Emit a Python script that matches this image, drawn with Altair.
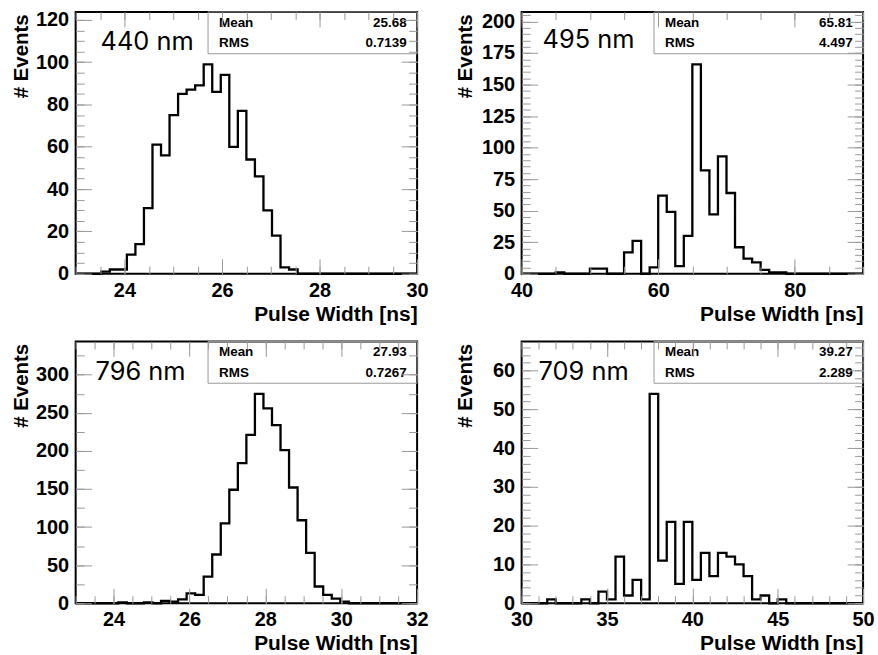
import altair as alt
import numpy as np
import pandas as pd

# ---------------- data ----------------
panel_labels = ["440 nm", "495 nm", "796 nm", "709 nm"]
x_lo = [23, 40, 23, 30]
x_hi = [30, 90, 32, 50]
y_hi = [123.75, 207.5, 343.75, 67.5]
mean_txt = ["25.68", "65.81", "27.93", "39.27"]
rms_txt = ["0.7139", "4.497", "0.7267", "2.289"]

counts_440 = [0, 0, 0, 1, 2, 2, 9, 14, 31, 61, 56, 75, 85, 87, 89, 99, 86, 94, 60, 77,
              54, 46, 30, 18, 3, 2, 0, 0, 0, 0, 0, 0, 0, 0, 0, 0, 0, 0, 0, 0]
counts_495 = [0, 0, 0, 0, 1, 0, 0, 0, 4, 4, 0, 0, 17, 26, 0, 5, 62, 49, 6, 30,
              166, 82, 47, 93, 64, 21, 12, 9, 3, 1, 1, 0, 0, 0, 0, 0, 0, 0, 0, 0]
counts_796 = [0, 0, 0, 0, 0, 1, 0, 0, 1, 0, 3, 2, 5, 13, 11, 35, 64, 105, 149, 184,
              221, 275, 256, 234, 201, 152, 109, 66, 22, 11, 6, 2, 0, 0, 0, 0, 0, 0, 0, 0]
counts_709 = [0, 0, 0, 1, 0, 0, 0, 1, 0, 3, 1, 12, 2, 6, 1, 54, 11, 21, 5, 21,
              6, 13, 7, 13, 12, 10, 7, 1, 2, 0, 1, 0, 0, 0, 0, 0, 0, 0, 0, 0]
counts = [counts_440, counts_495, counts_796, counts_709]

# axis tick steps (major / minor)
x_major_step = [2, 20, 2, 5]
x_minor_step = [0.5, 5, 0.5, 1]
y_major_step = [20, 25, 50, 10]
y_minor_step = [5, 5, 25, 2]

# ---------------- styling / layout ----------------
W, H = 343, 263
FONT = "Liberation Sans"
LABEL_FONT = "Inter"
TICK_COL = "#999999"
label_pos = [(25, 30), (21, 28), (20, 31), (17, 31)]
ytitle_x = [-48, -50, -48, -50]


def tick_values(lo, hi, step):
    start = np.ceil(lo / step - 1e-9) * step
    vals = np.arange(start, hi + step * 1e-6, step)
    return [round(float(v), 6) for v in vals]


def tick_axis(orient, values, length):
    return alt.Axis(orient=orient, values=values, tickSize=length, offset=-length,
                    labels=False, domain=False, grid=False, title=None, ticks=True,
                    tickColor=TICK_COL, tickWidth=1, zindex=1)


def panel(i):
    c = counts[i]
    n = len(c)
    w = (x_hi[i] - x_lo[i]) / n
    edges = [x_lo[i] + k * w for k in range(n + 1)]
    df = pd.DataFrame({"x": edges, "y": c + [c[-1]]})

    xs = alt.Scale(domain=[x_lo[i], x_hi[i]], nice=False, zero=False)
    ys = alt.Scale(domain=[0, y_hi[i]], nice=False, zero=False)

    xmaj = tick_values(x_lo[i], x_hi[i], x_major_step[i])
    xmin = tick_values(x_lo[i], x_hi[i], x_minor_step[i])
    ymaj = tick_values(0, y_hi[i], y_major_step[i])
    ymin = tick_values(0, y_hi[i], y_minor_step[i])

    xlab = alt.Axis(orient="bottom", values=xmaj, ticks=False, tickSize=0, domain=False,
                    grid=False, format="d", labelFont=FONT, labelFontWeight="bold",
                    labelFontSize=20, labelColor="black", labelPadding=6.5,
                    labelFlush=False, labelOverlap=False, labelBaseline="top",
                    title="Pulse Width [ns]", titleFont=FONT, titleFontWeight="bold",
                    titleFontSize=21, titleColor="black", titleAlign="right",
                    titleBaseline="alphabetic", titleX=W, titleY=46.5)
    ylab = alt.Axis(orient="left", values=ymaj, ticks=False, tickSize=0, domain=False,
                    grid=False, format="d", labelFont=FONT, labelFontWeight="bold",
                    labelFontSize=20, labelColor="black", labelPadding=7,
                    labelOverlap=False, labelFlush=False,
                    title="# Events", titleFont=FONT, titleFontWeight="bold",
                    titleFontSize=20.5, titleColor="black", titleAngle=270,
                    titleAlign="right", titleBaseline="alphabetic",
                    titleX=ytitle_x[i], titleY=2)

    base = alt.Chart(df)

    def enc(xa, ya):
        return dict(x=alt.X("x:Q", scale=xs, axis=xa), y=alt.Y("y:Q", scale=ys, axis=ya))

    layers = []
    one = pd.DataFrame({"a": [0]})
    # stats box
    layers.append(alt.Chart(one).mark_rect(filled=False, stroke="#999999", strokeWidth=1).encode(
        x=alt.value(133), x2=alt.value(W), y=alt.value(0), y2=alt.value(42)))
    # histogram
    layers.append(base.mark_line(interpolate="step-after", color="black", strokeWidth=2.3)
                  .encode(**enc(xlab, ylab)))
    # inside ticks (ROOT style)
    for xo, yo, vx, vy, lx, ly in [
        ("bottom", "left", xmaj, ymaj, 15, 16),
        ("bottom", "left", xmin, ymin, 7.5, 8.5),
        ("top", "right", xmaj, ymaj, 15, 16),
        ("top", "right", xmin, ymin, 7.5, 8.5),
    ]:
        layers.append(base.mark_line(opacity=0).encode(
            **enc(tick_axis(xo, vx, lx), tick_axis(yo, vy, ly))))

    # texts
    lab = pd.DataFrame({"t": [panel_labels[i]]})
    layers.append(alt.Chart(lab).mark_text(font=LABEL_FONT, fontSize=25.5, align="left",
                                           baseline="middle", color="black").encode(
        text="t:N", x=alt.value(label_pos[i][0]), y=alt.value(label_pos[i][1])))
    st = pd.DataFrame({"n": ["Mean", "RMS"], "v": [mean_txt[i], rms_txt[i]]})
    for row, ypix in [(0, 11), (1, 31.5)]:
        d = st.iloc[[row]]
        layers.append(alt.Chart(d).mark_text(font=FONT, fontSize=13.5, fontWeight="bold",
                                             align="left", baseline="middle", color="black")
                      .encode(text="n:N", x=alt.value(144), y=alt.value(ypix)))
        layers.append(alt.Chart(d).mark_text(font=FONT, fontSize=13.5, fontWeight="bold",
                                             align="right", baseline="middle", color="black")
                      .encode(text="v:N", x=alt.value(332.5), y=alt.value(ypix)))

    return alt.layer(*layers).resolve_axis(x="independent", y="independent").properties(
        width=W, height=H)


chart = alt.concat(*[panel(i) for i in range(4)], columns=2,
                   spacing={"row": 68, "column": 105}, bounds="flush").properties(
    autosize=alt.AutoSizeParams(type="pad"),
    padding={"left": 11, "top": 6.5, "right": 2, "bottom": 0},
    background="white",
).configure_view(stroke="black", strokeWidth=2)

chart.save("out.html", embed_options={"renderer": "svg", "actions": False})
